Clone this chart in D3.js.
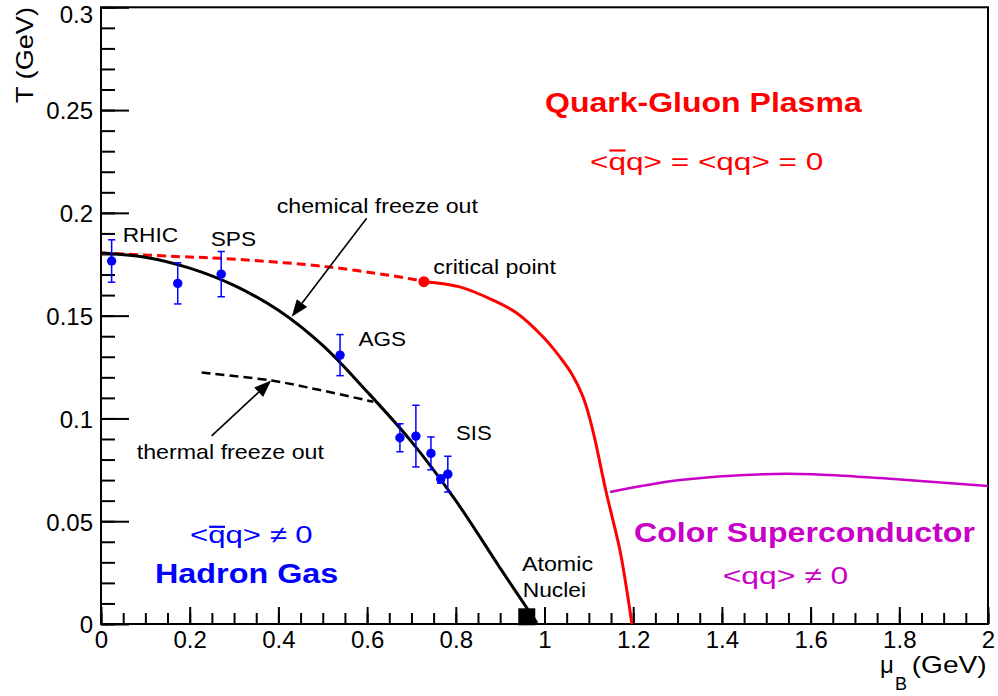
<!DOCTYPE html>
<html>
<head>
<meta charset="utf-8">
<script src="https://cdn.jsdelivr.net/npm/d3@7"></script>
<style>
  html, body { margin: 0; padding: 0; background: #fff; }
  svg { display: block; }
  text { font-family: "Liberation Sans", Arial, sans-serif; }
</style>
</head>
<body>
<svg id="chart" width="998" height="696"></svg>
<script>
// ---------------- data ----------------
const xTickValues = [0, 0.2, 0.4, 0.6, 0.8, 1, 1.2, 1.4, 1.6, 1.8, 2];
const xTickLabels = ["0", "0.2", "0.4", "0.6", "0.8", "1", "1.2", "1.4", "1.6", "1.8", "2"];
const yTickValues = [0, 0.05, 0.1, 0.15, 0.2, 0.25, 0.3];
const yTickLabels = ["0", "0.05", "0.1", "0.15", "0.2", "0.25", "0.3"];

// chemical freeze-out (solid black)
const chemMu = [0, 0.1, 0.2, 0.3, 0.4, 0.5, 0.6, 0.7, 0.8, 0.9, 0.983];
const chemT  = [0.1805, 0.1784, 0.1731, 0.1647, 0.1526, 0.1355, 0.1130, 0.0887, 0.0600, 0.0272, 0.0005];

// crossover (dashed red) up to critical point
const crossMu = [0, 0.178, 0.268, 0.509, 0.703, 0.728];
const crossT  = [0.1805, 0.1787, 0.1779, 0.1738, 0.1677, 0.1665];

// first-order transition (solid red)
const firstMu = [0.728, 0.809, 0.884, 0.938, 0.997, 1.035, 1.062, 1.087, 1.103, 1.114, 1.139, 1.170, 1.188, 1.197];
const firstT  = [0.1665, 0.1640, 0.1575, 0.1512, 0.1396, 0.1298, 0.1215, 0.1104, 0.0992, 0.0895, 0.0642, 0.0360, 0.0131, 0];

// colour superconductor boundary (magenta)
const cscMu = [1.148, 1.306, 1.493, 1.605, 1.757, 2.0];
const cscT  = [0.0642, 0.0700, 0.0729, 0.0729, 0.0710, 0.0671];

// thermal freeze-out (dashed black)
const thermMu = [0.227, 0.385, 0.494, 0.614];
const thermT  = [0.1223, 0.1184, 0.1138, 0.1081];

// experimental points
const ptMu  = [0.024, 0.173, 0.271, 0.539, 0.674, 0.710, 0.744, 0.766, 0.782];
const ptT   = [0.1766, 0.1657, 0.1702, 0.1308, 0.0906, 0.0914, 0.0830, 0.0705, 0.0729];
const ptErr = [0.0103, 0.0100, 0.0110, 0.0100, 0.0068, 0.0150, 0.0080, 0.0020, 0.0087];

const critPoint = [0.728, 0.1665];
const nuclei = [0.96, 0.0035];

// ---------------- setup ----------------
const svg = d3.select("#chart");
const x = d3.scaleLinear().domain([0, 2]).range([101, 988]);
const y = d3.scaleLinear().domain([0, 0.3]).range([624, 7.3]);

const BLUE = "#0000ff", RED = "#ff0000", MAG = "#c800c8";

// frame
svg.append("rect")
  .attr("x", x(0)).attr("y", y(0.3))
  .attr("width", x(2) - x(0)).attr("height", y(0) - y(0.3))
  .attr("fill", "none").attr("stroke", "#000").attr("stroke-width", 2);

function styleAxis(g, fs) {
  g.select(".domain").remove();
  g.selectAll("line").attr("stroke", "#000").attr("stroke-width", 2);
  g.selectAll("text").attr("font-family", "Liberation Sans, Arial, sans-serif")
    .attr("font-size", fs).attr("fill", "#000");
}

// y axis
const yMinor = d3.range(0, 0.3001, 0.01);
svg.append("g").attr("transform", `translate(${x(0)},0)`)
  .call(d3.axisLeft(y).tickValues(yMinor).tickSize(-14).tickFormat(""))
  .call(g => styleAxis(g, 24));
svg.append("g").attr("transform", `translate(${x(0)},0)`)
  .call(d3.axisLeft(y).tickValues(yTickValues).tickSize(-28).tickPadding(8)
        .tickFormat((d, i) => yTickLabels[i]))
  .call(g => styleAxis(g, 24))
  .call(g => g.selectAll("text").attr("dy", d => d === 0.3 ? "0.62em" : "0.37em"));

// x axis
const xMinor = d3.range(0, 2.0001, 0.05);
svg.append("g").attr("transform", `translate(0,${y(0)})`)
  .call(d3.axisBottom(x).tickValues(xMinor).tickSize(-11).tickFormat(""))
  .call(g => styleAxis(g, 24));
svg.append("g").attr("transform", `translate(0,${y(0)})`)
  .call(d3.axisBottom(x).tickValues(xTickValues).tickSize(-17).tickPadding(7)
        .tickFormat((d, i) => xTickLabels[i]))
  .call(g => styleAxis(g, 24));

// ---------------- curves ----------------
function curve(mu, t, color, width, dash) {
  const pts = mu.map((m, i) => [m, t[i]]);
  const line = d3.line().x(d => x(d[0])).y(d => y(d[1])).curve(d3.curveCatmullRom.alpha(0.5));
  const p = svg.append("path").attr("d", line(pts))
    .attr("fill", "none").attr("stroke", color).attr("stroke-width", width)
    .attr("stroke-linejoin", "round");
  if (dash) p.attr("stroke-dasharray", dash);
  return p;
}
curve(crossMu, crossT, RED, 3, "9,5");
curve(firstMu, firstT, RED, 3);
curve(cscMu, cscT, MAG, 2.5);
curve(thermMu, thermT, "#000", 2.5, "9,5");
curve(chemMu, chemT, "#000", 3);

// arrows
function arrow(m0, t0, m1, t1) {
  const x0 = x(m0), y0 = y(t0), x1 = x(m1), y1 = y(t1);
  const ang = Math.atan2(y1 - y0, x1 - x0);
  const L = 17, Wd = 6.5;
  const bx = x1 - L * Math.cos(ang), by = y1 - L * Math.sin(ang);
  svg.append("line").attr("x1", x0).attr("y1", y0).attr("x2", bx).attr("y2", by)
    .attr("stroke", "#000").attr("stroke-width", 1.6);
  const px = -Math.sin(ang), py = Math.cos(ang);
  svg.append("polygon")
    .attr("points", [[x1, y1], [bx + px * Wd, by + py * Wd], [bx - px * Wd, by - py * Wd]].map(p => p.join(",")).join(" "))
    .attr("fill", "#000");
}
arrow(0.599, 0.1974, 0.430, 0.1495);
arrow(0.2495, 0.0915, 0.3836, 0.1184);

// error bars + points
const pts = ptMu.map((m, i) => ({ m, t: ptT[i], e: ptErr[i] }));
const eg = svg.append("g").attr("stroke", BLUE).attr("stroke-width", 1.5);
pts.forEach(d => {
  eg.append("line").attr("x1", x(d.m)).attr("x2", x(d.m)).attr("y1", y(d.t - d.e)).attr("y2", y(d.t + d.e));
  eg.append("line").attr("x1", x(d.m) - 3.7).attr("x2", x(d.m) + 3.7).attr("y1", y(d.t - d.e)).attr("y2", y(d.t - d.e));
  eg.append("line").attr("x1", x(d.m) - 3.7).attr("x2", x(d.m) + 3.7).attr("y1", y(d.t + d.e)).attr("y2", y(d.t + d.e));
});
svg.append("g").selectAll("circle").data(pts).join("circle")
  .attr("cx", d => x(d.m)).attr("cy", d => y(d.t)).attr("r", 4.7).attr("fill", BLUE);

// critical point
svg.append("circle").attr("cx", x(critPoint[0])).attr("cy", y(critPoint[1])).attr("r", 5.5).attr("fill", RED);
// atomic nuclei
svg.append("rect").attr("x", x(nuclei[0]) - 8.5).attr("y", y(nuclei[1]) - 8.5)
  .attr("width", 17).attr("height", 17).attr("fill", "#000");

// ---------------- text ----------------
function label(t, px, py, w, opts = {}) {
  const el = svg.append("text").attr("x", px).attr("y", py)
    .attr("font-size", opts.size || 21)
    .attr("font-weight", opts.bold ? "bold" : "normal")
    .attr("fill", opts.color || "#000")
    .text(t);
  if (w) el.attr("textLength", w).attr("lengthAdjust", "spacingAndGlyphs");
  return el;
}
label("RHIC", 122.7, 241.7, 55.6);
label("SPS", 210.7, 246, 45.3);
label("AGS", 358.5, 346, 47.5);
label("SIS", 456, 440, 35.7);
label("critical point", 433.3, 274, 122.7);
label("chemical freeze out", 276.7, 213.3, 201.3);
label("thermal freeze out", 136.7, 459.3, 187.3);
label("Atomic", 522, 571, 71);
label("Nuclei", 522.7, 596.7, 63.3);

label("Quark-Gluon Plasma", 545, 111.7, 316.7, { size: 27, bold: true, color: RED });
label("Hadron Gas", 155, 583.3, 183.3, { size: 27, bold: true, color: BLUE });
label("Color Superconductor", 634, 541.7, 341, { size: 28, bold: true, color: MAG });
label("<qq> \u2260 0", 722.7, 584, 125.6, { size: 24, color: MAG });

// expressions with an overlined q
function barLabel(rest, px, py, w, color, barOff) {
  const el = svg.append("text").attr("x", px).attr("y", py)
    .attr("font-size", 24).attr("fill", color)
    .attr("textLength", w).attr("lengthAdjust", "spacingAndGlyphs");
  el.append("tspan").text("<");
  el.append("tspan").text("q");
  el.append("tspan").text(rest);
  const ext = el.node().getExtentOfChar(1);
  svg.append("line").attr("x1", ext.x + 1).attr("x2", ext.x + ext.width - 0.5)
    .attr("y1", py - barOff).attr("y2", py - barOff)
    .attr("stroke", color).attr("stroke-width", 2.2);
}
barLabel("q> = <qq> = 0", 590, 170, 233.3, RED, 19.5);
barLabel("q> \u2260 0", 190, 543.3, 122.7, BLUE, 16.5);

// axis titles
svg.append("text").attr("transform", "translate(33,103) rotate(-90)")
  .attr("font-size", 24).attr("fill", "#000")
  .attr("textLength", 96).attr("lengthAdjust", "spacingAndGlyphs")
  .text("T (GeV)");
svg.append("text").attr("x", 880).attr("y", 673).attr("font-size", 24).text("\u03bc");
svg.append("text").attr("x", 895).attr("y", 690).attr("font-size", 18).text("B");
svg.append("text").attr("x", 911.7).attr("y", 673).attr("font-size", 24)
  .attr("textLength", 75).attr("lengthAdjust", "spacingAndGlyphs").text("(GeV)");
</script>
</body>
</html>
